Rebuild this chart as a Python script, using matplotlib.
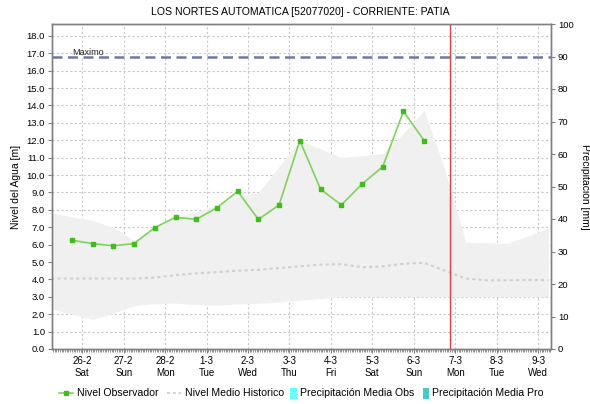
import matplotlib
matplotlib.use("Agg")
import matplotlib.pyplot as plt
from matplotlib.lines import Line2D
from matplotlib.patches import Rectangle
import numpy as np

plt.rcParams['font.family'] = ['Liberation Sans', 'DejaVu Sans']

# Day labels (tick at midnight of each day, x in days from 26-2)
day_labels = ["26-2", "27-2", "28-2", "1-3", "2-3", "3-3", "4-3", "5-3", "6-3", "7-3", "8-3", "9-3"]
weekday_labels = ["Sat", "Sun", "Mon", "Tue", "Wed", "Thu", "Fri", "Sat", "Sun", "Mon", "Tue", "Wed"]

# Observed level, every 12 h starting 25-2 18:00
obs_time = [-0.25, 0.25, 0.75, 1.25, 1.75, 2.25, 2.75, 3.25, 3.75, 4.25,
            4.75, 5.25, 5.75, 6.25, 6.75, 7.25, 7.75, 8.25]
obs_level = [6.25, 6.06, 5.93, 6.06, 6.98, 7.57, 7.45, 8.12, 9.06, 7.45,
             8.28, 11.98, 9.18, 8.28, 9.48, 10.48, 13.66, 11.98]

# Historical envelope and mean level, every 12 h starting 25-2 06:00
hist_time = [-0.75, -0.25, 0.25, 0.75, 1.25, 1.75, 2.25, 2.75, 3.25, 3.75,
             4.25, 4.75, 5.25, 5.75, 6.25, 6.75, 7.25, 7.75, 8.25, 8.75,
             9.25, 9.75, 10.25, 10.75, 11.25]
hist_max = [7.82, 7.6, 7.4, 7.0, 6.25, 7.0, 7.6, 7.87, 8.26, 8.75,
            9.0, 10.5, 12.0, 11.5, 11.0, 11.1, 11.23, 12.4, 13.72, 10.3,
            6.15, 6.1, 6.06, 6.5, 6.95]
hist_min = [2.32, 2.0, 1.71, 2.05, 2.5, 2.6, 2.64, 2.55, 2.52, 2.58,
            2.63, 2.7, 2.8, 2.9, 3.0, 3.0, 3.0, 3.0, 3.0, 3.0,
            3.0, 3.0, 3.0, 3.0, 3.0]
hist_mean = [4.05, 4.05, 4.05, 4.05, 4.05, 4.1, 4.25, 4.35, 4.42, 4.5,
             4.55, 4.65, 4.75, 4.85, 4.88, 4.7, 4.75, 4.9, 4.95, 4.5,
             4.05, 3.95, 3.95, 3.97, 3.95]

# Precipitation series (no values in this period)
precip_obs = []
precip_pro = []

max_level = 16.8
now_time = 8.875

W, H = 590, 404
fig = plt.figure(figsize=(W / 100, H / 100), dpi=100)
ax = fig.add_axes([52 / W, 55 / H, 499 / W, 325 / H])
ax2 = ax.twinx()

grid_col = "#c8c8c8"
spine_col = "#808080"
obs_line = "#7fd35a"
obs_mark = "#3cbf16"
mean_col = "#d0d0d0"

ax.fill_between(hist_time, hist_min, hist_max, color="#f0f0f0", lw=0, zorder=1)
ax.plot(hist_time, hist_mean, color=mean_col, lw=1.5, ls=(0, (1.5, 1.5)), zorder=2)
ax.axhline(max_level, color="#6e78a6", lw=1.8, ls=(0, (4, 2.2)), zorder=3)
ax.text(-0.23, max_level + 0.12, "Maximo", fontsize=6.5, color="#222222", zorder=4)
ax.axvline(now_time, color="#e04040", lw=1.0, zorder=4)
ax.plot(obs_time, obs_level, color=obs_line, lw=1.2, marker="s", ms=2.2,
        mfc=obs_mark, mec=obs_mark, zorder=5)

ax.set_xlim(-0.73, 11.31)
ax.set_ylim(0, 18.68)
ax2.set_ylim(0, 100)

days = np.arange(len(day_labels))
ax.set_xticks(days)
ax.set_xticklabels([f"{d}\n{w}" for d, w in zip(day_labels, weekday_labels)], fontsize=7)
ax.set_xticks(np.arange(-17, 11.31 * 24) / 24.0, minor=True)
yt = np.arange(0, 18.5, 1.0)
ax.set_yticks(yt)
ax.set_yticklabels([f"{v:.1f}" for v in yt], fontsize=6.8)
ax2.set_yticks(np.arange(0, 101, 10))
ax2.set_yticklabels([str(v) for v in range(0, 101, 10)], fontsize=6.8)

ax.tick_params(axis="both", which="major", length=3, color=spine_col, pad=2)
ax.tick_params(axis="x", which="minor", length=2, color=spine_col)
ax2.tick_params(axis="y", length=3, color=spine_col, pad=2)

ax.grid(True, which="major", color=grid_col, ls=(0, (2, 2)), lw=0.8)
ax.set_axisbelow(True)
for a in (ax, ax2):
    for s in a.spines.values():
        s.set_color(spine_col)
        s.set_linewidth(1.0)

ax.set_ylabel("Nivel del Agua [m]", fontsize=7.5, labelpad=4)
ax2.set_ylabel("Precipitación [mm]", fontsize=7.5, rotation=-90, labelpad=12)
fig.text(300 / W, 1 - 12 / H, "LOS NORTES AUTOMATICA [52077020] - CORRIENTE: PATIA",
         ha="center", va="center", fontsize=7.6)

# Legend row along the bottom, laid out in pixel units
leg_y = 1 - 393 / H
tf = fig.transFigure
def px(x):
    return x / W

fig.add_artist(Line2D([px(59), px(73)], [leg_y, leg_y], color=obs_line, lw=1.2, transform=tf))
fig.add_artist(Line2D([px(66)], [leg_y], marker="s", ms=2.2, color=obs_mark, transform=tf))
fig.add_artist(Line2D([px(167), px(181)], [leg_y, leg_y], color=mean_col, lw=1.4,
                      ls=(0, (1.5, 1.5)), transform=tf))
fig.add_artist(Rectangle((px(290), leg_y - 5.5 / H), 7 / W, 11 / H, color="#66ffff",
                         transform=tf, lw=0))
fig.add_artist(Rectangle((px(423), leg_y - 5.5 / H), 6 / W, 11 / H, color="#45c9c9",
                         transform=tf, lw=0))
for x0, lab in [(77, "Nivel Observador"), (185, "Nivel Medio Historico"),
                (300, "Precipitación Media Obs"), (432, "Precipitación Media Pro")]:
    fig.text(px(x0), leg_y, lab, ha="left", va="center", fontsize=7.6)

fig.savefig("out.png", dpi=100)
